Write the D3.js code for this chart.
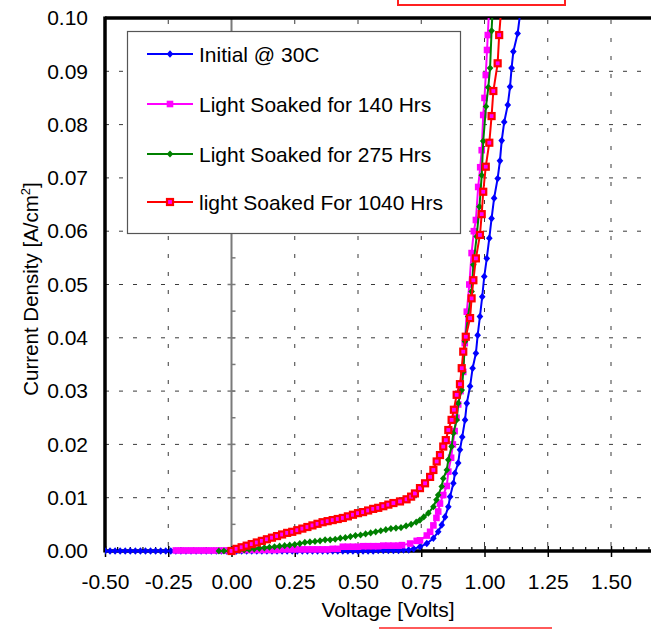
<!DOCTYPE html>
<html>
<head>
<meta charset="utf-8">
<script src="https://cdn.jsdelivr.net/npm/d3@7"></script>
<style>
  html, body { margin: 0; padding: 0; background: #fff; }
  svg { display: block; font-family: "Liberation Sans", Arial, sans-serif; }
</style>
</head>
<body>
<svg id="chart" width="651" height="629"></svg>
<script>
// ---------------- DATA ----------------
const xTicks = [-0.5, -0.25, 0, 0.25, 0.5, 0.75, 1.0, 1.25, 1.5];
const xTickLabels = ["-0.50", "-0.25", "0.00", "0.25", "0.50", "0.75", "1.00", "1.25", "1.50"];
const yTicks = [0, 0.01, 0.02, 0.03, 0.04, 0.05, 0.06, 0.07, 0.08, 0.09, 0.10];
const yTickLabels = ["0.00", "0.01", "0.02", "0.03", "0.04", "0.05", "0.06", "0.07", "0.08", "0.09", "0.10"];

const seriesNames = ["Initial @ 30C", "Light Soaked for 140 Hrs", "Light Soaked for 275 Hrs", "light Soaked For 1040 Hrs"];

// Initial @ 30C (blue)
const blueV = [-0.50,-0.48,-0.46,-0.44,-0.42,-0.40,-0.38,-0.36,-0.34,-0.32,-0.30,-0.28,-0.26,-0.24,-0.22,-0.20,-0.18,-0.16,-0.14,-0.12,-0.10,-0.08,-0.06,-0.04,-0.02,
  0.00,0.02,0.04,0.06,0.08,0.10,0.12,0.14,0.16,0.18,0.20,0.22,0.24,0.26,0.28,0.30,0.32,0.34,0.36,0.38,0.40,0.42,0.44,0.46,0.48,0.50,0.52,0.54,0.56,0.58,0.60,
  0.62,0.64,0.66,0.68,0.70,0.72,0.745,0.772,0.798,0.817,0.831,0.844,0.857,0.864,0.877,0.883,0.896,0.903,0.912,0.923,0.930,0.943,0.953,0.966,0.973,0.982,0.991,
  0.999,1.009,1.019,1.028,1.038,1.052,1.061,1.068,1.078,1.092,1.101,1.107,1.114,1.131,1.140];
const blueJ = [0,0,0,0,0,0,0,0,0,0,0,0,0,0,0,0,0,0,0,0,0,0,0,0,0,
  0,0,0,0,0,0,0,0,0,0,0,0,0,0,0,0,0,0,0,0,0,0,0,0,0,0,0,0,0,0.0001,0.0001,
  0.0001,0.0001,0.0001,0.0002,0.0002,0.0004,0.0008,0.0014,0.0024,0.0036,0.0049,0.0064,0.0083,0.0102,0.0127,0.0146,0.0165,0.0190,0.0214,0.0246,0.0277,0.0309,0.0343,0.0371,0.0405,0.0440,0.0477,
  0.0515,0.0549,0.0587,0.0624,0.0662,0.0699,0.0732,0.0770,0.0805,0.0837,0.0871,0.0906,0.0937,0.0971,0.1005];

// Light Soaked for 140 Hrs (magenta)
const magV = [-0.22,-0.20,-0.18,-0.16,-0.14,-0.12,-0.10,-0.08,-0.06,-0.04,-0.02,0.00,
  0.02,0.04,0.06,0.08,0.10,0.12,0.14,0.16,0.18,0.20,0.22,0.24,0.26,0.28,0.30,0.32,0.34,0.36,0.38,0.40,0.42,
  0.44,0.46,0.48,0.50,0.52,0.54,0.56,0.58,0.60,0.62,0.64,0.66,0.674,0.706,0.732,0.745,0.772,0.785,0.798,0.810,0.817,0.824,
  0.837,0.851,0.857,0.868,0.875,0.882,0.889,0.896,0.905,0.916,0.922,0.930,0.940,0.949,0.958,0.966,0.975,0.983,0.989,0.995,1.000,1.005,1.010,1.013,1.017];
const magJ = [0.0001,0.0001,0.0001,0.0001,0.0001,0.0001,0.0001,0.0001,0.0001,0.0001,0.0001,0.0001,
  0.0002,0.0002,0.0002,0.0002,0.0002,0.0002,0.0002,0.0002,0.0002,0.0003,0.0003,0.0003,0.0003,0.0003,0.0003,0.0003,0.0003,0.0003,0.0003,0.0004,0.0004,
  0.0008,0.0008,0.0008,0.0008,0.0009,0.0009,0.0009,0.0009,0.0010,0.0010,0.0010,0.0010,0.0011,0.0014,0.0019,0.0020,0.0029,0.0036,0.0048,0.0062,0.0074,0.0089,
  0.0105,0.0122,0.0149,0.0175,0.0200,0.0225,0.0250,0.0275,0.0300,0.0336,0.0390,0.0449,0.0500,0.0559,0.0600,0.0621,0.0683,0.0720,0.0752,0.0818,0.0850,0.0893,0.0940,0.0968,0.1005];

// Light Soaked for 275 Hrs (green)
const grnV = [-0.05,-0.03,-0.01,0.01,0.03,0.05,0.07,0.09,0.11,0.13,0.15,0.17,0.19,0.21,0.23,0.25,0.27,0.29,0.31,0.33,0.35,0.37,0.39,0.41,0.43,0.45,0.47,0.49,
  0.51,0.53,0.55,0.57,0.59,0.61,0.63,0.65,0.67,0.69,0.71,0.73,0.745,0.760,0.778,0.798,0.810,0.817,0.831,0.837,0.851,0.857,0.870,0.877,0.890,0.896,0.910,0.916,
  0.923,0.935,0.949,0.956,0.969,0.980,0.989,0.995,1.006,1.015,1.022,1.028,1.031];
const grnJ = [0,0,0,0.0001,0.0001,0.0002,0.0003,0.0004,0.0005,0.0006,0.0007,0.0008,0.0009,0.0010,0.0011,0.0012,0.0014,0.0016,0.0017,0.0018,0.0019,0.0021,0.0021,0.0022,0.0024,0.0025,0.0027,0.0029,
  0.0030,0.0032,0.0034,0.0036,0.0038,0.0040,0.0042,0.0043,0.0044,0.0047,0.0050,0.0054,0.0058,0.0064,0.0071,0.0083,0.0096,0.0105,0.0121,0.0136,0.0152,0.0171,0.0196,0.0221,0.0246,0.0277,0.0302,0.0336,
  0.0393,0.0440,0.0487,0.0537,0.0590,0.0646,0.0705,0.0769,0.0834,0.0870,0.0906,0.0976,0.1005];

// light Soaked For 1040 Hrs (red)
const redV = [0.00,0.02,0.04,0.06,0.08,0.10,0.12,0.14,0.16,0.18,0.20,0.22,0.24,0.26,0.28,0.30,0.32,0.34,0.36,0.38,0.40,0.42,0.44,0.46,0.48,0.50,
  0.52,0.54,0.56,0.58,0.60,0.62,0.64,0.666,0.692,0.710,0.725,0.745,0.765,0.785,0.798,0.811,0.824,0.837,0.847,0.857,0.870,0.879,0.890,0.903,0.910,0.916,0.926,
  0.943,0.949,0.956,0.966,0.982,0.989,0.995,1.005,1.019,1.028,1.035,1.052,1.058,1.064];
const redJ = [0.0000,0.0004,0.0007,0.0010,0.0013,0.0016,0.0019,0.0022,0.0025,0.0028,0.0031,0.0034,0.0036,0.0039,0.0042,0.0045,0.0048,0.0051,0.0054,0.0056,0.0058,0.0060,0.0062,0.0065,0.0068,0.0071,
  0.0073,0.0076,0.0079,0.0081,0.0084,0.0087,0.0090,0.0093,0.0097,0.0102,0.0108,0.0118,0.0127,0.0139,0.0152,0.0168,0.0180,0.0196,0.0208,0.0227,0.0246,0.0265,0.0293,0.0313,0.0343,0.0374,0.0402,
  0.0437,0.0474,0.0508,0.0549,0.0593,0.0632,0.0674,0.0721,0.0766,0.0816,0.0863,0.0915,0.0968,0.1005];

// ---------------- CHART ----------------
(function () {
const svg = d3.select("#chart");
const W = 651, H = 629;
const PL = 105, PT = 18, PB = 551;

const x = d3.scaleLinear().domain([-0.5, 1.5]).range([PL, 611]);
const y = d3.scaleLinear().domain([0, 0.1]).range([PB, PT]);
const FONT = 21;

svg.append("rect").attr("width", W).attr("height", H).attr("fill", "#fff");

// grid lines (dashed)
const grid = svg.append("g");
grid.selectAll("line.h").data(yTicks.filter(d => d > 0 && d < 0.1)).enter().append("line")
  .attr("x1", PL).attr("x2", W).attr("y1", d => y(d)).attr("y2", d => y(d))
  .attr("stroke", "#3a3a3a").attr("stroke-width", 1).attr("stroke-dasharray", "4,10");
grid.selectAll("line.v").data(xTicks.filter(d => d !== -0.5 && d !== 0)).enter().append("line")
  .attr("x1", d => x(d)).attr("x2", d => x(d)).attr("y1", PT).attr("y2", PB)
  .attr("stroke", "#3a3a3a").attr("stroke-width", 1).attr("stroke-dasharray", "4,14").attr("stroke-dashoffset", -2);

// vertical value axis at x = 0 (gray)
const zx = x(0);
svg.append("line").attr("x1", zx).attr("x2", zx).attr("y1", PT).attr("y2", PB)
  .attr("stroke", "#7a7a7a").attr("stroke-width", 2);
const minorY = d3.range(0.005, 0.1, 0.01);
svg.selectAll("line.zmin").data(minorY).enter().append("line")
  .attr("x1", zx).attr("x2", zx + 4).attr("y1", d => y(d)).attr("y2", d => y(d))
  .attr("stroke", "#7a7a7a").attr("stroke-width", 1.5);
svg.selectAll("line.zmaj").data(yTicks.filter(d => d > 0 && d < 0.1)).enter().append("line")
  .attr("x1", zx - 4).attr("x2", zx + 4).attr("y1", d => y(d)).attr("y2", d => y(d))
  .attr("stroke", "#7a7a7a").attr("stroke-width", 1.5);

// legend box
const legend = svg.append("g");
legend.append("rect").attr("x", 127.5).attr("y", 31.5).attr("width", 333).attr("height", 202)
  .attr("fill", "#fff").attr("stroke", "#555").attr("stroke-width", 1.2);

// bottom axis
const xAxis = d3.axisBottom(x).tickValues(xTicks).tickFormat((d, i) => xTickLabels[i])
  .tickSizeInner(6).tickSizeOuter(0).tickPadding(17);
const gx = svg.append("g").attr("transform", `translate(0,${PB})`).call(xAxis);
gx.select(".domain").remove();
gx.selectAll(".tick line").attr("y1", -5).attr("y2", 6).attr("stroke", "#000").attr("stroke-width", 1.5);
gx.selectAll(".tick text").attr("font-size", FONT).attr("font-family", "Liberation Sans, Arial, sans-serif").attr("fill", "#000");
const minorX = d3.range(-0.45, 1.76, 0.05).filter(v => Math.abs(v / 0.25 - Math.round(v / 0.25)) > 0.01);
svg.selectAll("line.xmin").data(minorX).enter().append("line")
  .attr("x1", d => x(d)).attr("x2", d => x(d)).attr("y1", PB - 4).attr("y2", PB)
  .attr("stroke", "#000").attr("stroke-width", 1.2);

// left axis labels
const yAxis = d3.axisLeft(y).tickValues(yTicks).tickFormat((d, i) => yTickLabels[i]).tickSize(0).tickPadding(17);
const gy = svg.append("g").attr("transform", `translate(${PL},0)`).call(yAxis);
gy.select(".domain").remove();
gy.selectAll(".tick text").attr("font-size", FONT).attr("font-family", "Liberation Sans, Arial, sans-serif").attr("fill", "#000");

// frame (thick black)
svg.append("line").attr("x1", PL).attr("x2", W).attr("y1", PT).attr("y2", PT).attr("stroke", "#000").attr("stroke-width", 3.5);
svg.append("line").attr("x1", PL).attr("x2", PL).attr("y1", PT - 1.5).attr("y2", PB + 1.5).attr("stroke", "#000").attr("stroke-width", 3.5);
svg.append("line").attr("x1", PL).attr("x2", W).attr("y1", PB).attr("y2", PB).attr("stroke", "#000").attr("stroke-width", 3.5);

// clip
svg.append("clipPath").attr("id", "clip").append("rect").attr("x", PL).attr("y", PT).attr("width", W - PL).attr("height", H - PT);

const series = [
  { v: blueV, j: blueJ, color: "#0000ff", marker: "diamond" },
  { v: magV, j: magJ, color: "#ff00ff", marker: "square" },
  { v: grnV, j: grnJ, color: "#008000", marker: "diamondS" },
  { v: redV, j: redJ, color: "#ff0000", marker: "squareR" }
];

const line = d3.line().x(d => x(d[0])).y(d => y(d[1]));

function drawMarker(g, px, py, s) {
  if (s.marker === "diamond") {
    g.append("path").attr("d", `M${px},${py - 3.8}L${px + 3.3},${py}L${px},${py + 3.8}L${px - 3.3},${py}Z`).attr("fill", s.color);
  } else if (s.marker === "diamondS") {
    g.append("path").attr("d", `M${px},${py - 3.6}L${px + 3.3},${py}L${px},${py + 3.6}L${px - 3.3},${py}Z`).attr("fill", s.color);
  } else if (s.marker === "square") {
    g.append("rect").attr("x", px - 3.3).attr("y", py - 3.3).attr("width", 6.6).attr("height", 6.6).attr("fill", s.color);
  } else {
    g.append("rect").attr("x", px - 3).attr("y", py - 3).attr("width", 6).attr("height", 6)
      .attr("fill", "#ff00ff").attr("stroke", s.color).attr("stroke-width", 2.2);
  }
}

const plot = svg.append("g").attr("clip-path", "url(#clip)");
series.forEach(s => {
  const pts = s.v.map((v, i) => [v, s.j[i]]);
  const g = plot.append("g");
  g.append("path").datum(pts).attr("d", line).attr("fill", "none").attr("stroke", s.color).attr("stroke-width", 2);
  pts.filter(p => p[1] <= 0.0995).forEach(p => drawMarker(g, x(p[0]), y(p[1]), s));
});

// legend entries
const legY = [54, 104, 154, 202];
series.forEach((s, i) => {
  const ly = legY[i];
  legend.append("line").attr("x1", 147).attr("x2", 193).attr("y1", ly).attr("y2", ly).attr("stroke", s.color).attr("stroke-width", 2);
  drawMarker(legend, 170, ly, s);
  legend.append("text").attr("x", 199).attr("y", ly).attr("dy", "0.36em")
    .attr("font-size", FONT).attr("fill", "#000").text(seriesNames[i]);
});
legend.raise();

// axis titles
const yt = svg.append("text").attr("transform", "translate(38,289) rotate(-90)")
  .attr("text-anchor", "middle").attr("font-size", 20.5).attr("fill", "#000");
yt.append("tspan").text("Current Density [A/cm");
yt.append("tspan").attr("font-size", 13).attr("dy", -8).text("2");
yt.append("tspan").attr("dy", 8).text("]");

svg.append("text").attr("x", 388).attr("y", 617).attr("text-anchor", "middle")
  .attr("font-size", 21).attr("fill", "#000").text("Voltage [Volts]");

// red annotation marks (cropped boxes)
svg.append("rect").attr("x", 398).attr("y", -10).attr("width", 167).attr("height", 15)
  .attr("fill", "none").attr("stroke", "#ff2020").attr("stroke-width", 2);
svg.append("rect").attr("x", 380).attr("y", 628).attr("width", 171).attr("height", 20)
  .attr("fill", "none").attr("stroke", "#ff5a5a").attr("stroke-width", 2);
})();
</script>
</body>
</html>
